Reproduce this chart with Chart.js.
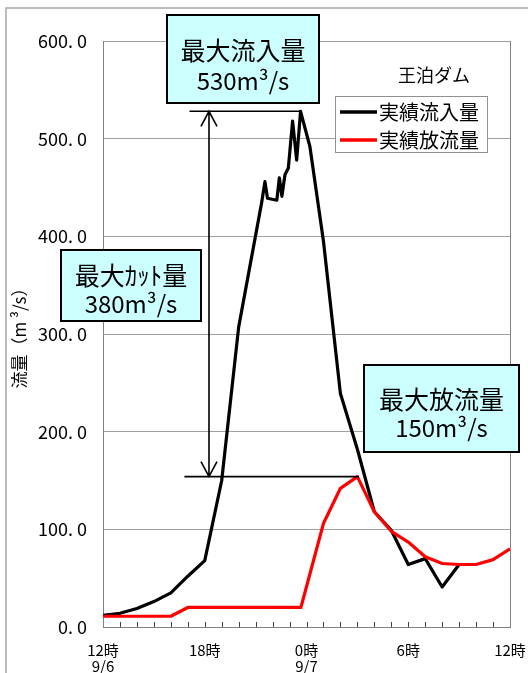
<!DOCTYPE html>
<html><head><meta charset="utf-8">
<script src="https://cdn.jsdelivr.net/npm/chart.js@4/dist/chart.umd.min.js"></script>
<style>html,body{margin:0;padding:0;background:#fff;overflow:hidden}#wrap{position:relative;width:528px;height:673px}</style>
</head><body><div id="wrap"><canvas id="c" width="528" height="673"></canvas></div>
<script>
// ---- data (hours after 12時 9/6) ----
const damName = '王泊ダム';
const seriesNames = ['実績流入量', '実績放流量'];
const inflowHours  = [0, 1, 2, 3, 4, 5, 6, 7, 8, 9.35, 9.55, 9.7, 10.25, 10.4, 10.55, 10.73, 10.93, 11.18, 11.42, 11.65, 12.2, 13, 14, 15, 16, 17, 18, 19, 20, 21];
const inflowValues = [12, 14, 19, 26, 35, 52, 68, 150, 307, 434, 456, 439, 437, 460, 441, 463, 470, 518, 478, 528, 492, 395, 239, 182, 118, 99, 64, 70, 41, 64];
const releaseHours  = [0, 1, 2, 3, 4, 5, 6, 7, 8, 9, 10, 11, 11.67, 13, 14, 15, 16, 17, 18, 19, 20, 21, 22, 23, 24];
const releaseValues = [11, 11, 11, 11, 11, 20, 20, 20, 20, 20, 20, 20, 20, 106, 142, 154, 118, 98, 87, 72, 65, 64, 64, 69, 80];
const xTickHours  = [0, 6, 12, 18, 24];
const xTickLabels = [['12時', '9/6'], ['18時', ''], ['0時', '9/7'], ['6時', ''], ['12時', '']];
const yTickValues = [0, 100, 200, 300, 400, 500, 600];
const yTickLabels = ['0. 0', '100. 0', '200. 0', '300. 0', '400. 0', '500. 0', '600. 0'];
const yAxisTitle = '流量（m ³/s）';
const noteInflow  = ['最大流入量', '530m³/s'];
const noteCut     = ['最大ｶｯﾄ量', '380m³/s'];
const noteRelease = ['最大放流量', '150m³/s'];
const guideTop = 528;     // max inflow level
const guideBottom = 154;  // max release level

const FONT = '"Noto Sans CJK JP", "Noto Sans", sans-serif';

const toXY = (xs, ys) => xs.map((h, i) => ({x: h, y: ys[i]}));

const decor = {
  id: 'decor',
  beforeDatasetsDraw(chart) {
    const {ctx, chartArea: a, scales: {x}} = chart;
    ctx.save();
    // outer frame
    ctx.strokeStyle = '#a8a8a8'; ctx.lineWidth = 1.5;
    ctx.strokeRect(6, 8, 560, 700);
    // right plot border
    ctx.strokeStyle = '#808080'; ctx.lineWidth = 1;
    ctx.beginPath(); ctx.moveTo(Math.round(a.right) + 0.5, a.top); ctx.lineTo(Math.round(a.right) + 0.5, a.bottom); ctx.stroke();
    // inner hourly ticks
    ctx.strokeStyle = '#404040';
    for (let h = 1; h < 24; h++) {
      const px = Math.round(x.getPixelForValue(h)) + 0.5;
      ctx.beginPath(); ctx.moveTo(px, a.bottom); ctx.lineTo(px, a.bottom - 5); ctx.stroke();
    }
    ctx.restore();
  },
  afterDatasetsDraw(chart) {
    const {ctx, scales: {x, y}} = chart;
    ctx.save();
    // guide lines and arrow
    ctx.strokeStyle = '#000'; ctx.lineWidth = 1.6;
    const yT = y.getPixelForValue(guideTop), yB = y.getPixelForValue(guideBottom);
    ctx.beginPath();
    ctx.moveTo(x.getPixelForValue(5.1), yT); ctx.lineTo(x.getPixelForValue(11.7), yT);
    ctx.moveTo(x.getPixelForValue(4.8), yB); ctx.lineTo(x.getPixelForValue(15.1), yB);
    const ax = x.getPixelForValue(6.25);
    ctx.moveTo(ax, yT); ctx.lineTo(ax, yB);
    ctx.moveTo(ax - 8, yT + 15); ctx.lineTo(ax, yT); ctx.lineTo(ax + 8, yT + 15);
    ctx.moveTo(ax - 8, yB - 15); ctx.lineTo(ax, yB); ctx.lineTo(ax + 8, yB - 15);
    ctx.stroke();

    // note boxes
    const box = (l, t, w, h, lines, y1, y2) => {
      ctx.fillStyle = '#ccffff';
      ctx.fillRect(l, t, w, h);
      ctx.strokeStyle = '#000'; ctx.lineWidth = 2;
      ctx.strokeRect(l, t, w, h);
      ctx.fillStyle = '#000'; ctx.textAlign = 'center'; ctx.textBaseline = 'middle';
      ctx.font = '25px ' + FONT;
      ctx.fillText(lines[0], l + w / 2, y1);
      ctx.font = '24px ' + FONT;
      ctx.fillText(lines[1], l + w / 2, y2);
    };
    box(167, 15, 152, 88, noteInflow, 50, 81);
    box(61, 250, 140, 71, noteCut, 275, 304);
    box(364, 365, 155, 87, noteRelease, 399, 428);

    // dam name
    ctx.fillStyle = '#000'; ctx.textAlign = 'center'; ctx.textBaseline = 'middle';
    ctx.font = '18px ' + FONT;
    ctx.fillText(damName, 434, 75);

    // legend
    ctx.fillStyle = '#fff';
    ctx.fillRect(335, 96, 152, 56);
    ctx.strokeStyle = '#909090'; ctx.lineWidth = 1;
    ctx.strokeRect(335.5, 96.5, 152, 56);
    const ds = chart.data.datasets;
    const rows = [ds[1], ds[0]];
    rows.forEach((d, i) => {
      const ry = 112 + i * 28;
      ctx.strokeStyle = d.borderColor; ctx.lineWidth = 3.5;
      ctx.beginPath(); ctx.moveTo(340, ry); ctx.lineTo(377, ry); ctx.stroke();
      ctx.fillStyle = '#000'; ctx.textAlign = 'left'; ctx.font = '20px ' + FONT;
      ctx.fillText(d.label, 379, ry);
    });
    ctx.restore();
  }
};

new Chart(document.getElementById('c'), {
  type: 'line',
  data: {
    datasets: [
      {label: seriesNames[1], data: toXY(releaseHours, releaseValues), borderColor: '#ff0000', borderWidth: 3.2, pointRadius: 0, tension: 0, borderJoinStyle: 'round', order: 1},
      {label: seriesNames[0], data: toXY(inflowHours, inflowValues), borderColor: '#000000', borderWidth: 3.2, pointRadius: 0, tension: 0, borderJoinStyle: 'round', order: 2}
    ]
  },
  options: {
    responsive: false, animation: false, devicePixelRatio: 1,
    layout: {padding: {top: 41, right: 18, bottom: 0, left: 0}},
    plugins: {legend: {display: false}, tooltip: {enabled: false}},
    scales: {
      x: {
        type: 'linear', min: 0, max: 24,
        afterFit: s => { s.height = 46; s.paddingLeft = 0; s.paddingRight = 0; },
        afterBuildTicks: s => { s.ticks = xTickHours.map(v => ({value: v})); },
        grid: {display: false, drawTicks: false},
        border: {display: true, color: '#808080', width: 1},
        ticks: {
          autoSkip: false, maxRotation: 0, padding: 15, color: '#000',
          font: {family: FONT, size: 15, lineHeight: 1.1},
          callback: v => { const i = xTickHours.indexOf(v); return i >= 0 ? xTickLabels[i] : ''; }
        }
      },
      y: {
        min: 0, max: 600,
        afterFit: s => { s.width = 103; s.paddingTop = 0; s.paddingBottom = 0; },
        afterBuildTicks: s => { s.ticks = yTickValues.map(v => ({value: v})); },
        grid: {color: '#a0a0a0', lineWidth: 1, drawTicks: false},
        border: {display: true, color: '#808080', width: 1},
        ticks: {
          padding: 16, color: '#000', font: {family: FONT, size: 18},
          callback: v => { const i = yTickValues.indexOf(v); return i >= 0 ? yTickLabels[i] : ''; }
        },
        title: {display: true, text: yAxisTitle, color: '#000', font: {family: FONT, size: 17}, padding: {top: 9, bottom: 0}}
      }
    }
  },
  plugins: [decor]
});
</script></body></html>
